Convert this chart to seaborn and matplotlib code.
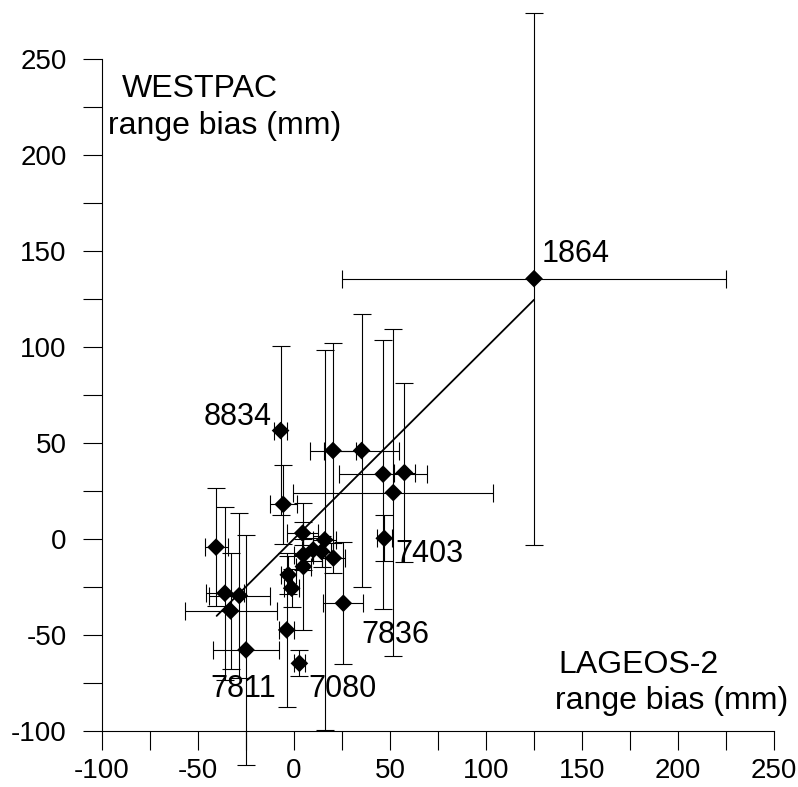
import matplotlib
matplotlib.use('Agg')
import matplotlib.pyplot as plt
from matplotlib.ticker import MultipleLocator
import pandas as pd
import seaborn as sns

# Range biases (mm) per station: LAGEOS-2 (x) against WESTPAC (y).
lageos = [125.0, -7.0, -40.6, -36.0, -33.0, -28.5, -25.0, -5.6, -3.0, -1.2,
          -3.8, 2.8, 4.5, 4.9, 4.9, 10.0, 16.0, 14.4, 20.5, 20.3,
          35.2, 25.7, 46.4, 51.7, 57.5, 47.0]
lageos_err = [100.0, 3.5, 6.0, 10.0, 24.0, 16.0, 17.0, 7.0, 4.0, 4.0,
              4.0, 3.0, 8.0, 5.0, 4.0, 6.0, 6.0, 5.0, 6.0, 12.0,
              19.5, 10.4, 23.0, 52.0, 5.5, 4.0]
westpac = [135.5, 56.4, -4.3, -28.3, -37.5, -29.5, -57.8, 18.0, -18.7, -25.7,
           -47.4, -64.8, 3.0, -8.3, -14.4, -5.7, -0.5, -6.6, -10.0, 46.0,
           46.0, -33.5, 33.7, 24.1, 34.5, 0.3]
westpac_err = [138.5, 44.0, 30.7, 45.0, 30.0, 43.0, 60.0, 20.5, 10.0, 10.0,
               40.0, 6.8, 6.0, 8.0, 33.0, 6.0, 99.0, 8.0, 8.0, 56.0,
               71.0, 31.8, 70.0, 85.0, 46.7, 12.0]

# regression line end points
fit_x = [-40.3, 125.0]
fit_y = [-40.1, 124.5]

# station labels
label_text = ['1864', '8834', '7403', '7836', '7811', '7080']
label_x = [129.0, -11.5, 52.6, 35.3, -43.8, 7.5]
label_y = [144.3, 59.4, -12.0, -54.3, -82.1, -82.3]
label_ha = ['left', 'right', 'left', 'left', 'left', 'left']

df = pd.DataFrame({'lageos': lageos, 'lageos_err': lageos_err,
                   'westpac': westpac, 'westpac_err': westpac_err})

sns.set_theme(style='ticks')
plt.rcParams['font.family'] = ['Liberation Sans', 'DejaVu Sans']
plt.rcParams['axes.unicode_minus'] = False
plt.rcParams['text.color'] = 'black'

fig, ax = plt.subplots(figsize=(7.98, 7.87), dpi=100)
fig.subplots_adjust(left=0.1278, right=0.970, bottom=0.0712, top=0.9254)

# error bars first, diamonds on top
eb = ax.errorbar(df['lageos'], df['westpac'], xerr=df['lageos_err'], yerr=df['westpac_err'],
                 fmt='none', ecolor='black', elinewidth=0.8, capsize=6.8, capthick=0.8, zorder=2)
for art in eb.get_children():
    art.set_clip_on(False)

ax.plot(fit_x, fit_y, color='black', lw=1.3, zorder=2)

sns.scatterplot(data=df, x='lageos', y='westpac', marker='D', s=81, color='black',
                edgecolor='none', zorder=3, clip_on=False, ax=ax)

for t, x, y, ha in zip(label_text, label_x, label_y, label_ha):
    ax.text(x, y, t, ha=ha, va='baseline', fontsize=22, color='black')

# axis titles sit inside the plot area
ax.text(-89.8, 230.0, 'WESTPAC', ha='left', va='baseline', fontsize=23, color='black')
ax.text(-96.9, 211.0, 'range bias (mm)', ha='left', va='baseline', fontsize=23, color='black')
ax.text(137.5, -70.0, 'LAGEOS-2', ha='left', va='baseline', fontsize=23, color='black')
ax.text(135.9, -88.5, 'range bias (mm)', ha='left', va='baseline', fontsize=23, color='black')

ax.set_xlim(-100, 250)
ax.set_ylim(-100, 250)
ax.xaxis.set_major_locator(MultipleLocator(50))
ax.xaxis.set_minor_locator(MultipleLocator(25))
ax.yaxis.set_major_locator(MultipleLocator(50))
ax.yaxis.set_minor_locator(MultipleLocator(25))
ax.set_xlabel('')
ax.set_ylabel('')

sns.despine(ax=ax)
for side in ['left', 'bottom']:
    ax.spines[side].set_linewidth(0.8)
    ax.spines[side].set_color('black')
ax.tick_params(which='both', direction='out', length=13.7, width=0.8, colors='black')
ax.tick_params(axis='x', labelsize=20, pad=5.8)
ax.tick_params(axis='y', labelsize=20, pad=11.7)

fig.savefig('out.png', dpi=100)
